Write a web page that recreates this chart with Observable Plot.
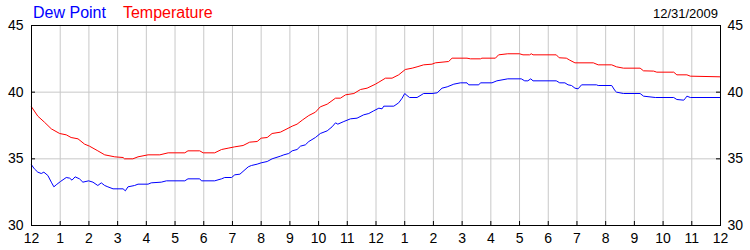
<!DOCTYPE html>
<html><head><meta charset="utf-8">
<script src="https://cdn.jsdelivr.net/npm/d3@7"></script>
<script src="https://cdn.jsdelivr.net/npm/@observablehq/plot@0.6"></script>
<style>
body{margin:0;background:#fff;}
#wrap{position:relative;width:750px;height:250px;font-family:"Liberation Sans",Arial,sans-serif;}
#legend{position:absolute;left:33px;top:4px;font-size:16px;white-space:nowrap;}
#legend span+span{margin-left:17px;}
#date{position:absolute;right:32px;top:6px;font-size:13px;color:#000;}
svg{display:block;}
</style></head><body>
<div id="wrap"><div id="legend"><span style="color:#0000ff">Dew Point</span><span style="color:#ff0000">Temperature</span></div><div id="date">12/31/2009</div></div>
<script>
const hourTicks = [0,1,2,3,4,5,6,7,8,9,10,11,12,13,14,15,16,17,18,19,20,21,22,23,24];
const hourLabels = ["12","1","2","3","4","5","6","7","8","9","10","11","12","1","2","3","4","5","6","7","8","9","10","11","12"];
const yTicks = [30,35,40,45];

const tempHours = [0,0.22,0.45,0.69,0.98,1.21,1.38,1.62,1.85,2.02,2.31,2.55,2.9,3.19,3.24,3.53,3.71,4.06,4.47,4.76,5.34,5.45,5.86,5.98,6.38,6.62,6.85,7.08,7.37,7.6,
 7.86,8.0,8.21,8.38,8.67,8.9,9.08,9.25,9.43,9.66,9.89,10.06,10.3,10.59,10.76,10.94,11.23,11.46,11.69,11.98,12.1,12.33,12.56,12.79,13.02,13.26,13.43,13.66,13.95,14.07,14.53,14.65,15.17,15.29,15.64,15.69,16.16,16.27,
 16.59,17.0,17.12,17.35,17.41,17.47,18.28,18.38,18.63,18.75,18.93,19.57,19.74,20.21,20.38,20.62,21.2,21.32,21.67,21.78,22.37,22.48,22.83,22.95,24];
const tempValues = [38.9,38.2,37.75,37.25,36.9,36.8,36.6,36.5,36.1,35.95,35.6,35.3,35.15,35.1,35.0,35.0,35.15,35.3,35.3,35.45,35.45,35.6,35.6,35.45,35.45,35.7,35.8,35.9,36.0,36.25,
 36.3,36.55,36.6,36.9,37.0,37.25,37.45,37.6,37.9,38.25,38.5,38.9,39.1,39.55,39.55,39.8,39.9,40.2,40.3,40.6,40.75,41.05,41.05,41.3,41.7,41.8,41.9,42.05,42.1,42.2,42.3,42.55,42.55,42.5,42.5,42.55,42.55,42.8,
 42.88,42.88,42.8,42.8,42.88,42.8,42.8,42.58,42.55,42.4,42.2,42.2,42.05,42.05,41.9,41.8,41.8,41.6,41.58,41.5,41.5,41.3,41.3,41.2,41.15];

const dewHours = [0,0.1,0.22,0.34,0.43,0.57,0.69,0.78,0.86,1.01,1.21,1.33,1.41,1.52,1.67,1.79,1.99,2.14,2.31,2.43,2.55,2.66,2.84,3.19,3.27,3.36,3.59,3.71,4.06,4.17,4.52,4.7,5.34,5.45,5.86,5.92,6.38,6.62,6.73,6.97,7.08,7.26,7.55,7.66,
 7.86,8.0,8.21,8.38,8.67,8.79,8.96,9.08,9.25,9.37,9.54,9.66,9.89,10.06,10.3,10.47,10.59,10.67,10.88,11.11,11.34,11.57,11.75,11.92,12.1,12.21,12.27,12.62,12.79,12.91,13.0,13.08,13.17,13.43,13.66,13.95,14.13,14.3,14.48,14.71,14.94,15.17,15.23,15.58,15.64,16.04,16.21,
 16.59,17.06,17.18,17.29,17.39,17.47,18.28,18.4,18.58,18.69,18.81,18.93,19.04,19.16,19.68,19.74,20.21,20.33,20.38,20.62,21.2,21.32,21.73,22.37,22.48,22.72,22.78,22.83,22.95,24];
const dewValues = [34.55,34.25,34.0,33.9,34.0,33.75,33.25,32.9,33.05,33.3,33.6,33.55,33.4,33.65,33.5,33.25,33.35,33.25,33.0,33.2,33.0,32.9,32.75,32.75,32.6,32.9,33.0,33.1,33.1,33.2,33.25,33.35,33.35,33.5,33.5,33.35,33.35,33.5,33.6,33.6,33.8,33.85,34.4,34.5,
 34.6,34.7,34.8,35.0,35.2,35.3,35.4,35.6,35.7,35.95,36.05,36.3,36.6,36.9,37.1,37.4,37.7,37.6,37.8,38.0,38.05,38.3,38.4,38.6,38.8,38.75,38.95,38.95,39.2,39.55,39.9,39.75,39.6,39.6,39.9,39.9,39.95,40.3,40.4,40.6,40.7,40.7,40.55,40.55,40.7,40.7,40.85,
 41.0,41.0,40.85,40.85,41.0,40.85,40.85,40.7,40.7,40.55,40.5,40.3,40.25,40.55,40.55,40.5,40.5,40.1,40.0,39.9,39.9,39.7,39.6,39.6,39.45,39.4,39.55,39.7,39.6,39.6];

const temp = tempHours.map((h, i) => ({h, v: tempValues[i]}));
const dew = dewHours.map((h, i) => ({h, v: dewValues[i]}));
const fmtX = d => hourLabels[hourTicks.indexOf(d)];
const noText = () => "";

const chart = Plot.plot({
  width: 750, height: 250,
  marginLeft: 31, marginRight: 30, marginTop: 25, marginBottom: 25,
  style: {fontFamily: "'Liberation Sans', Arial, sans-serif", fontSize: "14px", color: "#000", background: "transparent"},
  x: {domain: [0, 24]},
  y: {domain: [30, 45]},
  marks: [
    Plot.gridX(hourTicks, {stroke: "#c8c8c8", strokeOpacity: 1}),
    Plot.gridY([35, 40], {stroke: "#c8c8c8", strokeOpacity: 1}),
    Plot.line(dew, {x: "h", y: "v", stroke: "#0000ff", strokeWidth: 1}),
    Plot.line(temp, {x: "h", y: "v", stroke: "#ff0000", strokeWidth: 1}),
    Plot.frame({stroke: "#000"}),
    Plot.axisX({ticks: hourTicks, tickFormat: noText, tickSize: -4, label: null}),
    Plot.axisY({anchor: "left", ticks: yTicks, tickFormat: noText, tickSize: -4, label: null}),
    Plot.axisY({anchor: "right", ticks: yTicks, tickFormat: noText, tickSize: -5, label: null}),
    Plot.axisX({ticks: hourTicks, tickFormat: fmtX, tickSize: 0, tickPadding: 8, label: null}),
    Plot.axisY({anchor: "left", ticks: yTicks, tickSize: 0, tickPadding: 8, label: null}),
    Plot.axisY({anchor: "right", ticks: yTicks, tickSize: 0, tickPadding: 7, label: null})
  ]
});
document.getElementById("wrap").prepend(chart);
</script>
</body></html>
